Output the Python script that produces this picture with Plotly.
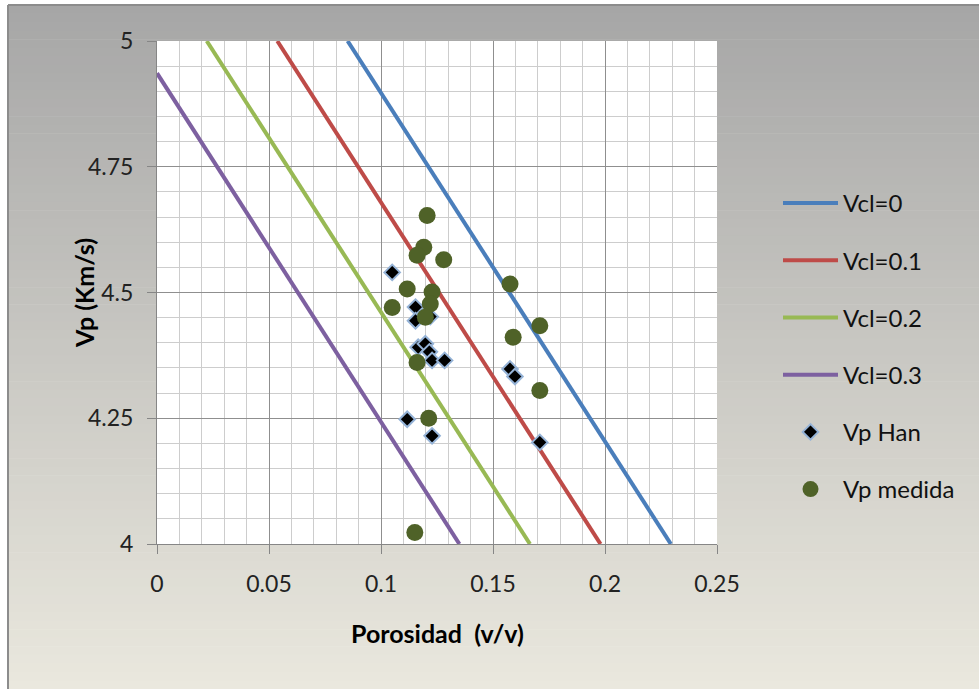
import plotly.graph_objects as go

# ---------------- data ----------------
vcl_names = ["Vcl=0", "Vcl=0.1", "Vcl=0.2", "Vcl=0.3"]
vcl0_phi = [0.0851, 0.2294]
vcl0_vp = [5.0, 4.0]
vcl01_phi = [0.0537, 0.1980]
vcl01_vp = [5.0, 4.0]
vcl02_phi = [0.0222, 0.1665]
vcl02_vp = [5.0, 4.0]
vcl03_phi = [0.0, 0.1350]
vcl03_vp = [4.936, 4.0]

han_phi = [0.1050, 0.1154, 0.1154, 0.1220, 0.1166, 0.1198, 0.1216, 0.1228,
           0.1284, 0.1576, 0.1598, 0.1117, 0.1228, 0.1709]
han_vp = [4.540, 4.471, 4.444, 4.452, 4.391, 4.398, 4.382, 4.365,
          4.365, 4.348, 4.333, 4.248, 4.215, 4.202]

med_phi = [0.1206, 0.1191, 0.1161, 0.1280, 0.1576, 0.1117, 0.1228, 0.1220,
           0.1050, 0.1198, 0.1709, 0.1590, 0.1161, 0.1709, 0.1213, 0.1151]
med_vp = [4.653, 4.590, 4.574, 4.565, 4.517, 4.507, 4.501, 4.477,
          4.470, 4.451, 4.434, 4.411, 4.361, 4.305, 4.250, 4.023]

x_tickvals = [0, 0.05, 0.1, 0.15, 0.2, 0.25]
x_ticktext = ["0", "0.05", "0.1", "0.15", "0.2", "0.25"]
y_tickvals = [4, 4.25, 4.5, 4.75, 5]
y_ticktext = ["4", "4.25", "4.5", "4.75", "5"]

line_colors = ["#4A7EBB", "#BE4B48", "#98B954", "#7D60A0"]

# ---------------- layout geometry ----------------
W, H = 979, 689
L, R, T, B = 157, 262, 41, 145
PW, PH = W - L - R, H - T - B


def px_x(px):
    return (px - L) / PW


def px_y(py):
    return (H - B - py) / PH


FONT = "Lato"

fig = go.Figure()

series = [(vcl0_phi, vcl0_vp), (vcl01_phi, vcl01_vp), (vcl02_phi, vcl02_vp), (vcl03_phi, vcl03_vp)]
for i, (name, (xs, ys)) in enumerate(zip(vcl_names, series)):
    fig.add_trace(go.Scatter(x=xs, y=ys, mode="lines", name=name,
                             legendgroup=name,
                             line=dict(color=line_colors[i], width=4)))

fig.add_trace(go.Scatter(x=han_phi, y=han_vp, mode="markers", name="Vp Han",
                         legendgroup="han",
                         marker=dict(symbol="diamond", size=12, color="black",
                                     line=dict(color="#95B3D7", width=2))))
fig.add_trace(go.Scatter(x=med_phi, y=med_vp, mode="markers", name="Vp medida",
                         legendgroup="med",
                         marker=dict(symbol="circle", size=17, color="#4F6228",
                                     line=dict(width=0))))

# background gradient strips
shapes = []
top_c = (166, 166, 166)
bot_c = (234, 232, 222)
y_start, y_end = 5, 689
n = 80
for k in range(n):
    py0 = y_start + (y_end - y_start) * k / n
    py1 = y_start + (y_end - y_start) * (k + 1) / n + 0.6
    t = (k + 0.5) / n
    c = tuple(int(round(top_c[j] + (bot_c[j] - top_c[j]) * t)) for j in range(3))
    shapes.append(dict(type="rect", xref="paper", yref="paper", layer="below",
                       x0=px_x(8), x1=px_x(W + 2), y0=px_y(py1), y1=px_y(py0),
                       fillcolor="rgb(%d,%d,%d)" % c, line=dict(width=0)))
# outer frame
shapes.append(dict(type="line", xref="paper", yref="paper", layer="below",
                   x0=px_x(8), x1=px_x(8), y0=px_y(5), y1=px_y(689),
                   line=dict(color="#8C8C8C", width=2)))
shapes.append(dict(type="line", xref="paper", yref="paper", layer="below",
                   x0=px_x(8), x1=px_x(W + 2), y0=px_y(5), y1=px_y(5),
                   line=dict(color="#8C8C8C", width=2)))
# white plot area
shapes.append(dict(type="rect", xref="paper", yref="paper", layer="below",
                   x0=0, x1=1, y0=0, y1=1, fillcolor="white", line=dict(width=0)))

annotations = [
    dict(text="<b>Porosidad  (v/v)</b>", xref="paper", yref="paper",
         x=px_x(437), y=px_y(633), xanchor="center", yanchor="middle",
         showarrow=False, font=dict(family=FONT, size=25, color="black")),
    dict(text="<b>Vp (Km/s)</b>", xref="paper", yref="paper",
         x=px_x(60), y=px_y(293), xanchor="center", yanchor="middle",
         xshift=24, textangle=-90, showarrow=False,
         font=dict(family=FONT, size=25, color="black")),
]

axis_common = dict(
    showgrid=True, gridcolor="#8F8F8F", gridwidth=1,
    zeroline=False, showline=True, linecolor="#868686", linewidth=1,
    ticks="outside", ticklen=9, tickcolor="#868686", tickwidth=1,
    tickfont=dict(family=FONT, size=23, color="#222222"),
)

fig.update_layout(
    width=W, height=H,
    margin=dict(l=L, r=R, t=T, b=B, autoexpand=False),
    paper_bgcolor="white",
    plot_bgcolor="white",
    shapes=shapes,
    annotations=annotations,
    showlegend=True,
    legend=dict(x=px_x(778), y=px_y(181), xanchor="left", yanchor="top",
                bgcolor="rgba(0,0,0,0)", tracegroupgap=23,
                font=dict(family=FONT, size=24, color="#111111"),
                itemwidth=55),
    xaxis=dict(range=[0, 0.25], tickvals=x_tickvals, ticktext=x_ticktext,
               ticklabelstandoff=10,
               minor=dict(dtick=0.01, showgrid=True, gridcolor="#CDCDCD",
                          gridwidth=1, ticks=""),
               **axis_common),
    yaxis=dict(range=[4, 5], tickvals=y_tickvals, ticktext=y_ticktext,
               ticklabelstandoff=9,
               minor=dict(dtick=0.05, showgrid=True, gridcolor="#CDCDCD",
                          gridwidth=1, ticks=""),
               **axis_common),
)

fig.write_html("out.html")
